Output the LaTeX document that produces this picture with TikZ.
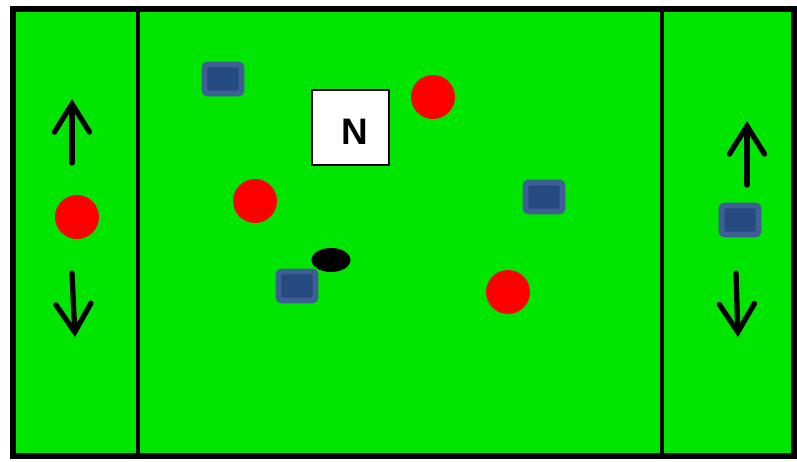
\documentclass[tikz,border=0pt]{standalone}
\usepackage{fontspec}
\setmainfont{Liberation Sans}
\usetikzlibrary{arrows.meta, shapes.geometric}

\definecolor{pitch}{RGB}{0,230,0}
\definecolor{cone}{RGB}{255,0,0}
\definecolor{bluerim}{RGB}{64,94,150}
\definecolor{bluefill}{RGB}{36,74,128}

\begin{document}
\begin{tikzpicture}[x=0.02cm, y=-0.02cm,
        redpl/.style={circle, fill=cone, minimum size=0.88cm, inner sep=0pt},
        bluepl/.style={rectangle, draw=bluerim, fill=bluefill, line width=3.4pt, rounded corners=2pt, minimum width=0.74cm, minimum height=0.58cm, inner sep=0pt},
        move/.style={line width=3pt, line cap=round, -{Straight Barb[length=16pt, width=20pt, line cap=round]}}]
        \useasboundingbox (0,0) rectangle (797,462);

        % Pitch
        \fill[pitch] (13,9) rectangle (794,456);
        \draw[line width=3pt] (13,9) rectangle (794,456);
        \draw[line width=2.6pt] (138,9) -- (138,456);
        \draw[line width=2.6pt] (662,9) -- (662,456);

        % Red players
        \node[redpl] (redl) at (77, 217) {};
        \node[redpl] (redone) at (255, 201) {};
        \node[redpl] (redtwo) at (433, 97) {};
        \node[redpl] (redthree) at (508, 292) {};

        % Blue players
        \node[bluepl] (blueone) at (223, 79) {};
        \node[bluepl] (bluetwo) at (544, 197) {};
        \node[bluepl] (bluethree) at (297, 286) {};
        \node[bluepl] (bluer) at (740, 220) {};

        % Ball
        \node[ellipse, fill=black, minimum width=0.78cm, minimum height=0.48cm, inner sep=0pt] (ball) at (331, 260) {};

        % N box
        \node[draw, fill=white, line width=0.8pt, minimum width=1.54cm, minimum height=1.5cm, inner sep=0pt] (nbox) at (350.5, 127.5) {};
        \node[font=\fontsize{21}{21}\selectfont\bfseries, inner sep=0pt] (nlbl) at (354.5, 132) {N};

        % Moves
        \coordinate (lupa) at (72, 163);
        \coordinate (lupb) at (72, 99);
        \coordinate (ldna) at (72, 273);
        \coordinate (ldnb) at (75, 337);
        \coordinate (rupa) at (747, 185);
        \coordinate (rupb) at (747, 121);
        \coordinate (rdna) at (736, 273);
        \coordinate (rdnb) at (738, 337);
        \draw[move] (lupa) -- (lupb);
        \draw[move] (ldna) -- (ldnb);
        \draw[move] (rupa) -- (rupb);
        \draw[move] (rdna) -- (rdnb);
    \end{tikzpicture}
\end{document}
